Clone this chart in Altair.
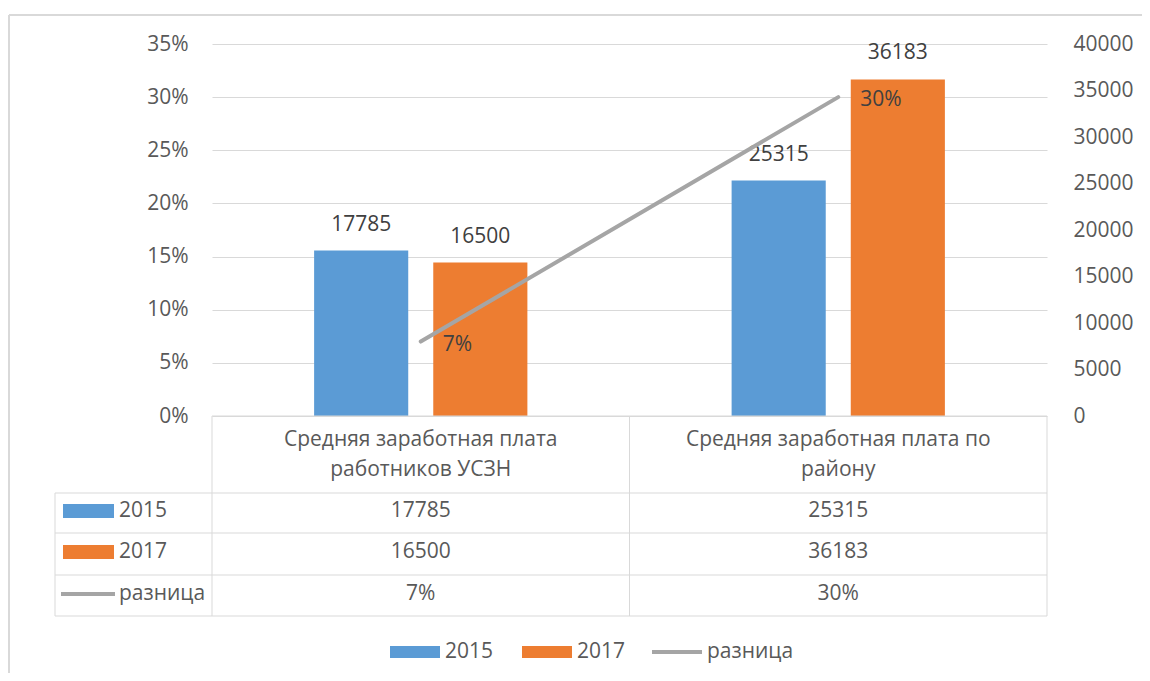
import altair as alt
import pandas as pd

# ---------------- data ----------------
categories = ["Средняя заработная плата работников УСЗН", "Средняя заработная плата по району"]
category_header = ["Средняя заработная плата\nработников УСЗН", "Средняя заработная плата по\nрайону"]
series_names = ["2015", "2017"]
values_2015 = [17785, 25315]
values_2017 = [16500, 36183]
line_name = "разница"
diff_values = [0.07, 0.30]
left_ticks = [0, 0.05, 0.10, 0.15, 0.20, 0.25, 0.30, 0.35]
right_ticks = [0, 5000, 10000, 15000, 20000, 25000, 30000, 35000, 40000]

# ---------------- styles ----------------
BLUE = "#5B9BD5"
ORANGE = "#ED7D31"
GREY = "#A5A5A5"
GRID = "#D9D9D9"
TXT = "#595959"
DARK = "#404040"
FONT = "Open Sans"
FS = 21
W, H = 835, 372

bars_df = pd.DataFrame({
    "cat": categories * 2,
    "series": [series_names[0]] * 2 + [series_names[1]] * 2,
    "value": values_2015 + values_2017,
})
line_df = pd.DataFrame({
    "cat": categories,
    "diff": diff_values,
    "label": [f"{round(d * 100)}%" for d in diff_values],
})
header_df = pd.DataFrame({"cat": categories, "text": category_header})
table_rows = {
    series_names[0]: [str(v) for v in values_2015],
    series_names[1]: [str(v) for v in values_2017],
    line_name: [f"{round(d * 100)}%" for d in diff_values],
}

x_enc = alt.X("cat:N", scale=alt.Scale(domain=categories, paddingInner=0, paddingOuter=0), axis=None)
xoff = alt.XOffset("series:N", scale=alt.Scale(domain=series_names, paddingInner=0.21, paddingOuter=0.857))
y_bar_scale = alt.Scale(domain=[0, 40000], nice=False, zero=True)
y_line_scale = alt.Scale(domain=[0, 0.35], nice=False, zero=True)

right_axis = alt.Axis(orient="right", values=right_ticks, format="d", grid=False,
                      domain=False, ticks=False, labelPadding=26)
left_axis = alt.Axis(orient="left", values=left_ticks, format=".0%", grid=True,
                     gridColor=GRID, gridWidth=1, domain=False, ticks=False, labelPadding=24)

bars = alt.Chart(bars_df).mark_bar().encode(
    x=x_enc,
    xOffset=xoff,
    y=alt.Y("value:Q", scale=y_bar_scale, title=None, axis=right_axis),
    color=alt.Color("series:N", scale=alt.Scale(domain=series_names, range=[BLUE, ORANGE]), legend=None),
)
bar_text = alt.Chart(bars_df).mark_text(
    baseline="middle", dy=-26, font=FONT, fontSize=FS, color=DARK
).encode(
    x=x_enc, xOffset=xoff,
    y=alt.Y("value:Q", scale=y_bar_scale, title=None, axis=right_axis),
    text=alt.Text("value:Q", format="d"),
)
right_layer = alt.layer(bars, bar_text)

line = alt.Chart(line_df).mark_line(color=GREY, strokeWidth=4, strokeCap="round").encode(
    x=x_enc,
    y=alt.Y("diff:Q", scale=y_line_scale, title=None, axis=left_axis),
)
line_text = alt.Chart(line_df).mark_text(
    align="left", baseline="middle", dx=22, dy=3, font=FONT, fontSize=FS, color=DARK
).encode(
    x=x_enc,
    y=alt.Y("diff:Q", scale=y_line_scale, title=None, axis=left_axis),
    text="label:N",
)
left_layer = alt.layer(line, line_text)

one = pd.DataFrame({"k": [0]})


def hrule(y, x0, x1, color=GRID, sw=1):
    return alt.Chart(one).mark_rule(color=color, strokeWidth=sw).encode(
        x=alt.value(x0), x2=alt.value(x1), y=alt.value(y))


def vrule(x, y0, y1, color=GRID, sw=1):
    return alt.Chart(one).mark_rule(color=color, strokeWidth=sw).encode(
        x=alt.value(x), y=alt.value(y0), y2=alt.value(y1))


# table grid
row_lines = [H, 449, 489, 531, 572]
table_lines = [hrule(H, 0, W)] + [hrule(y, -157, W) for y in row_lines[1:]]
table_lines += [vrule(-157, 449, 572), vrule(0, H, 572), vrule(W / 2, H, 572), vrule(W, H, 572)]

# frame of chart area
frame = [hrule(-29, -203, 940, sw=2), vrule(-203, -29, 640, sw=2)]

header_text = alt.Chart(header_df).mark_text(
    baseline="middle", lineBreak="\n", lineHeight=30, font=FONT, fontSize=FS, color=TXT
).encode(x=x_enc, y=alt.value(396), text="text:N")

row_centers = {series_names[0]: 467, series_names[1]: 508, line_name: 550}
table_texts = []
for rname, texts in table_rows.items():
    df = pd.DataFrame({"cat": categories, "text": texts})
    table_texts.append(
        alt.Chart(df).mark_text(baseline="middle", font=FONT, fontSize=FS, color=TXT).encode(
            x=x_enc, y=alt.value(row_centers[rname]), text="text:N"))
    table_texts.append(
        alt.Chart(pd.DataFrame({"t": [rname]})).mark_text(
            align="left", baseline="middle", font=FONT, fontSize=FS, color=TXT
        ).encode(x=alt.value(-93), y=alt.value(row_centers[rname]), text="t:N"))

keys = [
    alt.Chart(one).mark_rect(color=BLUE).encode(
        x=alt.value(-149), x2=alt.value(-98), y=alt.value(460), y2=alt.value(474)),
    alt.Chart(one).mark_rect(color=ORANGE).encode(
        x=alt.value(-149), x2=alt.value(-98), y=alt.value(501), y2=alt.value(515)),
    hrule(550, -151, -97, color=GREY, sw=4),
]

# bottom legend
LY = 608
legend_items = [
    alt.Chart(one).mark_rect(color=BLUE).encode(
        x=alt.value(178), x2=alt.value(228), y=alt.value(LY - 6), y2=alt.value(LY + 6)),
    alt.Chart(pd.DataFrame({"t": [series_names[0]]})).mark_text(
        align="left", baseline="middle", font=FONT, fontSize=FS, color=TXT
    ).encode(x=alt.value(233), y=alt.value(LY), text="t:N"),
    alt.Chart(one).mark_rect(color=ORANGE).encode(
        x=alt.value(310), x2=alt.value(360), y=alt.value(LY - 6), y2=alt.value(LY + 6)),
    alt.Chart(pd.DataFrame({"t": [series_names[1]]})).mark_text(
        align="left", baseline="middle", font=FONT, fontSize=FS, color=TXT
    ).encode(x=alt.value(365), y=alt.value(LY), text="t:N"),
    hrule(LY, 440, 490, color=GREY, sw=4),
    alt.Chart(pd.DataFrame({"t": [line_name]})).mark_text(
        align="left", baseline="middle", font=FONT, fontSize=FS, color=TXT
    ).encode(x=alt.value(495), y=alt.value(LY), text="t:N"),
]

chart = alt.layer(
    right_layer, left_layer, header_text, *table_lines, *frame, *table_texts, *keys, *legend_items
).resolve_scale(y="independent").properties(
    width=W, height=H,
    autosize=alt.AutoSizeParams(type="none"),
    padding={"left": 204, "top": 36, "right": 95, "bottom": 257},
).configure_view(stroke=None).configure_axis(
    labelFont=FONT, labelFontSize=FS, labelColor=TXT
)

chart.save("out.html", embed_options={"renderer": "svg", "actions": False})
